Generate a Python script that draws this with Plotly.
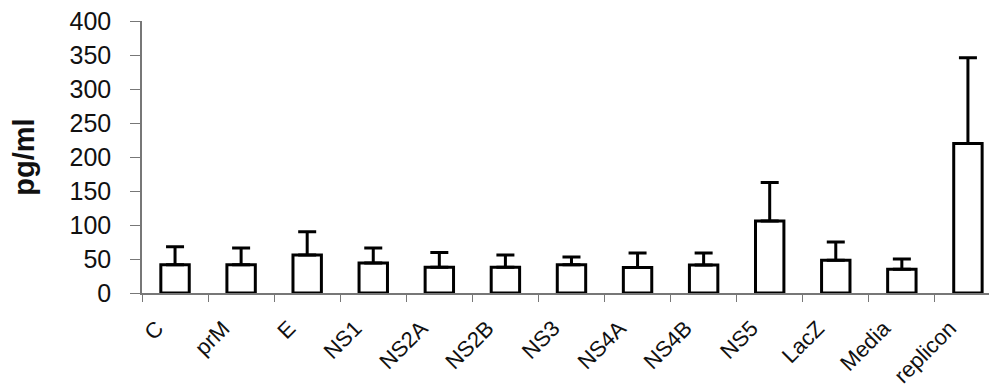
import plotly.graph_objects as go

categories = ["C", "prM", "E", "NS1", "NS2A", "NS2B", "NS3", "NS4A", "NS4B", "NS5", "LacZ", "Media", "replicon"]
means = [41.5, 41.5, 56, 44, 38, 38, 41.5, 37.5, 41, 106, 48, 35, 220]
upper = [68, 66, 90, 66, 59.5, 56, 53, 59, 59, 162.5, 75, 50, 346]
y_ticks = [0, 50, 100, 150, 200, 250, 300, 350, 400]

err_plus = [u - m for u, m in zip(upper, means)]

fig = go.Figure()
fig.add_trace(go.Bar(
    x=categories, y=means, width=0.43,
    marker=dict(color="white", line=dict(color="black", width=3)),
    error_y=dict(type="data", symmetric=False, array=err_plus,
                 arrayminus=[0] * len(means), color="black", thickness=3, width=9),
))

font = "Liberation Sans, Arial, sans-serif"
fig.update_layout(
    width=989, height=382,
    margin=dict(l=134, r=0, t=13, b=97, autoexpand=False),
    plot_bgcolor="white", paper_bgcolor="white",
    showlegend=False,
    font=dict(family=font, color="#111"),
)
fig.update_xaxes(
    range=[-0.5, 12.44], showgrid=False, zeroline=False, automargin=False,
    showline=True, linecolor="#777", linewidth=1.5,
    ticks="outside", ticklen=7, tickcolor="#777", tickson="boundaries",
    tickangle=-45, ticklabelshift=-18, ticklabelstandoff=12,
    ticklabeloverflow="allow",
    tickfont=dict(size=22, family=font, color="#111"),
)
fig.update_yaxes(
    range=[0, 400], tickvals=y_ticks, showgrid=False, zeroline=False, automargin=False,
    showline=True, linecolor="#777", linewidth=1.5,
    ticks="outside", ticklen=10, tickcolor="#777",
    ticklabelstandoff=14, ticklabeloverflow="allow",
    tickfont=dict(size=25, family=font, color="#111"),
    title=dict(text="<b>pg/ml</b>", font=dict(size=29, family=font, color="#111"), standoff=26),
)

fig.write_html("out.html")
